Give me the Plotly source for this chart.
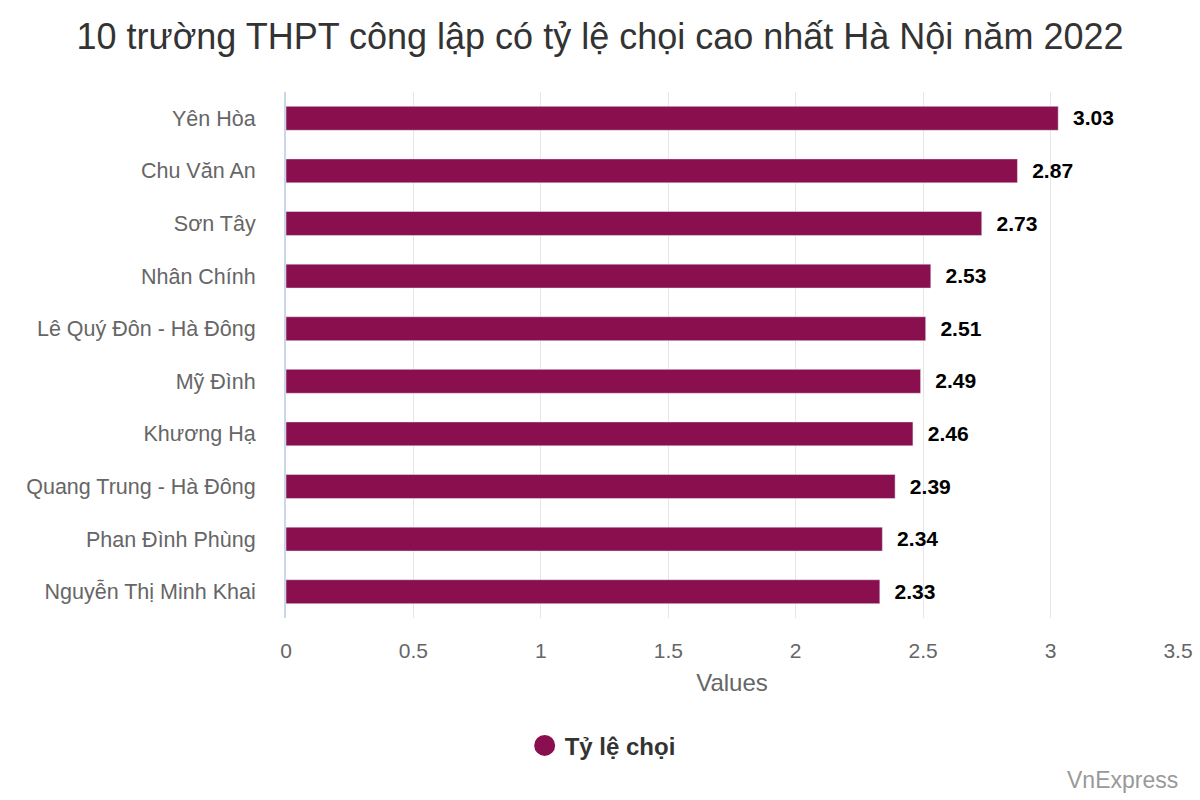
import plotly.graph_objects as go

schools = ["Yên Hòa", "Chu Văn An", "Sơn Tây", "Nhân Chính", "Lê Quý Đôn - Hà Đông",
           "Mỹ Đình", "Khương Hạ", "Quang Trung - Hà Đông", "Phan Đình Phùng", "Nguyễn Thị Minh Khai"]
ratios = [3.03, 2.87, 2.73, 2.53, 2.51, 2.49, 2.46, 2.39, 2.34, 2.33]
series_name = "Tỷ lệ chọi"
x_ticks = [0, 0.5, 1, 1.5, 2, 2.5, 3, 3.5]
x_tick_labels = ["0", "0.5", "1", "1.5", "2", "2.5", "3", "3.5"]

color = "#8a0f4e"
font = "Liberation Sans, Arial, sans-serif"

fig = go.Figure()
fig.add_trace(go.Bar(
    x=ratios, y=schools, orientation="h", marker_color=color, width=0.455,
    text=[f"  {v:.2f}" for v in ratios], textposition="outside", cliponaxis=False,
    textfont=dict(family=font, size=22, color="#000000", weight="bold"),
    showlegend=False, hoverinfo="x+y",
))
fig.add_trace(go.Scatter(
    x=[None], y=[None], mode="markers", name=series_name,
    marker=dict(symbol="circle", size=16, color=color, line=dict(color=color, width=5)),
))

fig.update_layout(
    width=1200, height=800,
    paper_bgcolor="white", plot_bgcolor="white",
    margin=dict(l=286, r=22, t=92, b=182, autoexpand=False),
    title=dict(text="10 trường THPT công lập có tỷ lệ chọi cao nhất Hà Nội năm 2022",
               x=0.5, xanchor="center", y=0.954, yanchor="middle",
               font=dict(family=font, size=36, color="#333333")),
    font=dict(family=font),
    xaxis=dict(range=[0, 3.5], tickvals=x_ticks, ticktext=x_tick_labels,
               showgrid=True, gridcolor="#e6e6e6", gridwidth=1, zeroline=False,
               tickfont=dict(size=21, color="#666666"),
               ticks="outside", ticklen=14, tickcolor="rgba(0,0,0,0)",
               title=dict(text="Values", font=dict(size=24, color="#666666"), standoff=12),
               showline=False),
    yaxis=dict(categoryorder="array", categoryarray=schools[::-1], autorange=False,
               range=[-0.5, 9.5], showgrid=False, zeroline=False,
               showline=True, linecolor="#ccd6eb", linewidth=2,
               tickfont=dict(size=21.5, color="#666666"),
               ticks="outside", ticklen=24, tickcolor="rgba(0,0,0,0)"),
    legend=dict(orientation="h", x=0.355, xanchor="center", y=-0.243, yanchor="middle",
                font=dict(size=24, color="#333333", weight="bold"), itemsizing="trace"),
    annotations=[dict(text="VnExpress", xref="paper", yref="paper", x=1.002, y=-0.308,
                      xanchor="right", yanchor="middle", showarrow=False,
                      font=dict(family=font, size=23, color="#999999"))],
)

fig.write_html("out.html", config={"displayModeBar": False},
               post_script="document.body.style.margin='0';")
